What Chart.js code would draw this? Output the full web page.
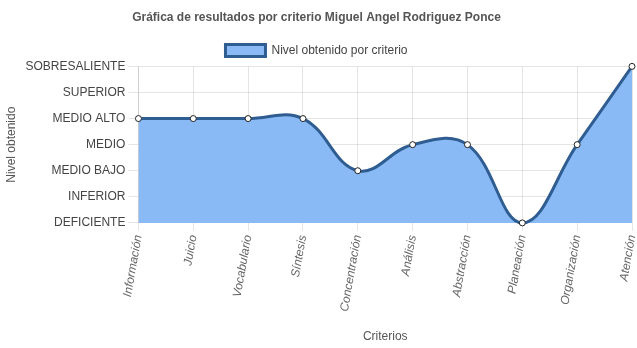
<!DOCTYPE html>
<html><head><meta charset="utf-8">
<script src="https://cdn.jsdelivr.net/npm/chart.js@4"></script>
<style>html,body{margin:0;padding:0;background:#fff}#w{width:637px;height:348px}</style>
</head><body><div id="w"><canvas id="c"></canvas></div>
<script>
const categories = ["Información","Juicio","Vocabulario","Síntesis","Concentración","Análisis","Abstracción","Planeación","Organización","Atención"];
const levelLabels = ["DEFICIENTE","INFERIOR","MEDIO BAJO","MEDIO","MEDIO ALTO","SUPERIOR","SOBRESALIENTE"];
const values = [4,4,4,4,2,3,3,0,3,6];
const seriesName = "Nivel obtenido por criterio";
const titleText = "Gráfica de resultados por criterio Miguel Angel Rodriguez Ponce";

Chart.defaults.font.family = "'Liberation Sans', Arial, Helvetica, sans-serif";
Chart.defaults.font.size = 12;
Chart.defaults.color = "#666";

new Chart(document.getElementById('c'), {
  type: 'line',
  data: { labels: categories, datasets: [{
    label: seriesName, data: values, fill: true, clip: false,
    backgroundColor: 'rgba(138,186,245,1)', borderColor: '#2f5d91', borderWidth: 3,
    tension: 0.4, pointRadius: 3, pointBackgroundColor: '#fff', pointBorderColor: '#222', pointBorderWidth: 1
  }]},
  options: {
    responsive: true, maintainAspectRatio: false, animation: false,
    layout: { padding: { left: 0, right: 4, top: 4, bottom: 0 } },
    plugins: {
      title: { display: true, text: titleText, font: { weight: 'bold', size: 12 }, color: '#555', padding: { top: 6, bottom: 10 } },
      legend: { labels: { boxWidth: 40, color: '#444' } }
    },
    scales: {
      x: {
        title: { display: true, text: 'Criterios', color: '#555', padding: { top: 14 } },
        ticks: { minRotation: 80, maxRotation: 80, font: { style: 'italic' }, color: '#666' },
        grid: { color: 'rgba(0,0,0,0.1)', tickLength: 8 },
        afterFit: s => { s.paddingRight = 0; }
      },
      y: {
        min: 0, max: 6,
        title: { display: true, text: 'Nivel obtenido', color: '#555' },
        ticks: { stepSize: 1, color: '#444', callback: v => levelLabels[v] },
        grid: { color: 'rgba(0,0,0,0.1)', tickLength: 10 }
      }
    }
  }
});
</script></body></html>
